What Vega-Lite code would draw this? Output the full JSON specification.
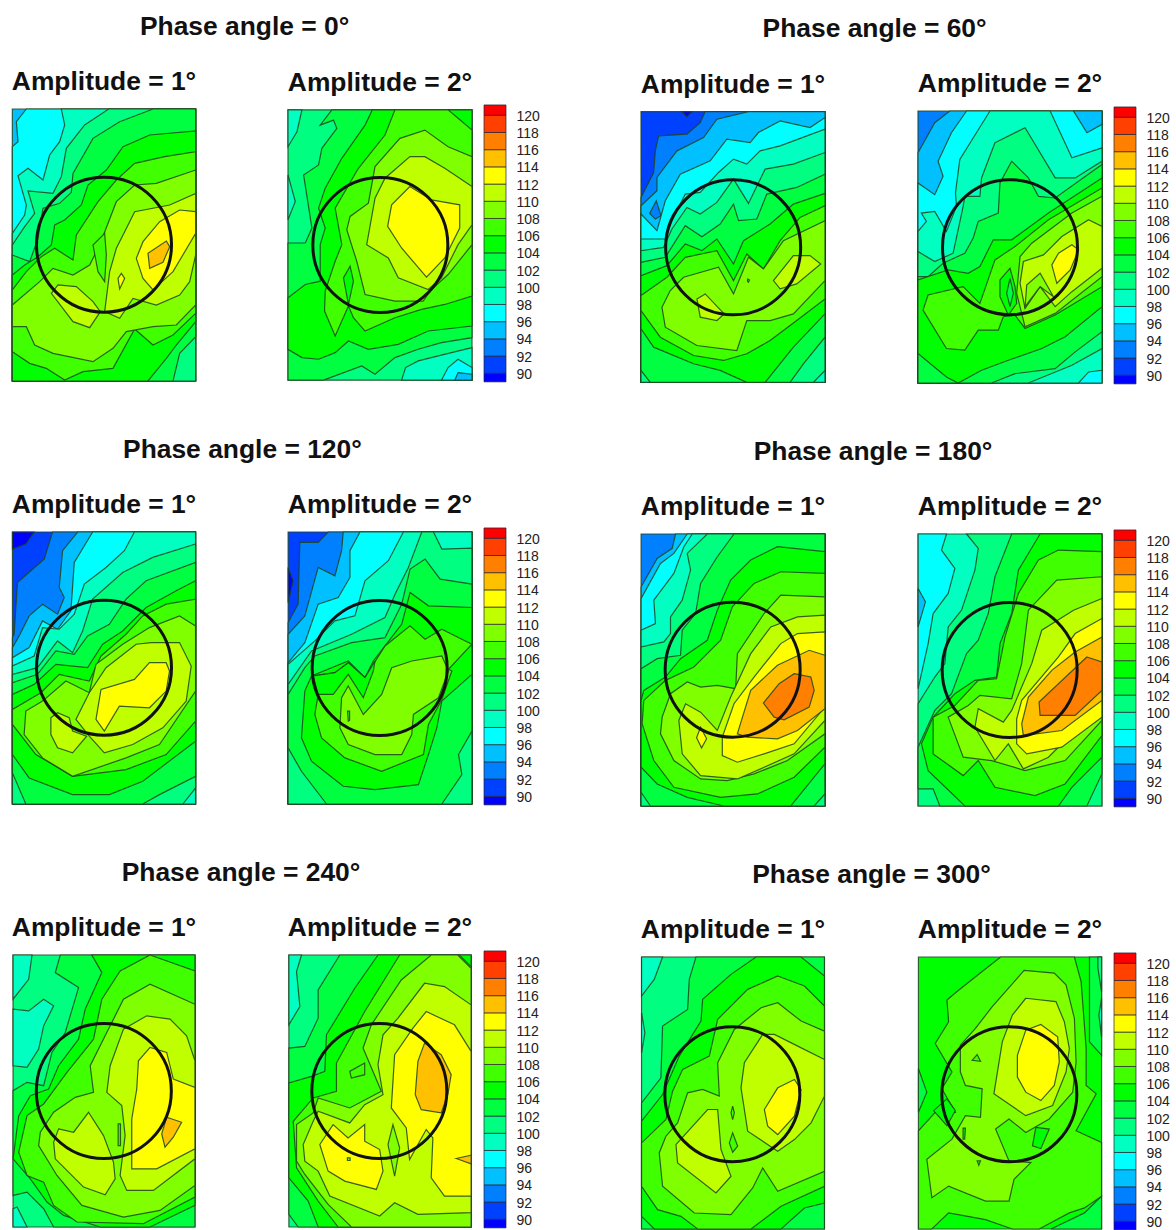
{"$schema":"https://vega.github.io/schema/vega-lite/v6.json","background":"white","padding":{"left":9,"top":13,"right":0,"bottom":0},"datasets":{"bins":[{"lo":89,"hi":90,"l":88},{"lo":90,"hi":92,"l":90},{"lo":92,"hi":94,"l":92},{"lo":94,"hi":96,"l":94},{"lo":96,"hi":98,"l":96},{"lo":98,"hi":100,"l":98},{"lo":100,"hi":102,"l":100},{"lo":102,"hi":104,"l":102},{"lo":104,"hi":106,"l":104},{"lo":106,"hi":108,"l":106},{"lo":108,"hi":110,"l":108},{"lo":110,"hi":112,"l":110},{"lo":112,"hi":114,"l":112},{"lo":114,"hi":116,"l":114},{"lo":116,"hi":118,"l":116},{"lo":118,"hi":120,"l":118},{"lo":120,"hi":121.2,"l":120}]},"config":{"view":{"stroke":null},"title":{"font":"Liberation Sans","fontSize":26.4,"fontWeight":"bold","color":"#111","anchor":"middle","offset":11},"geoshape":{"filled":true,"stroke":"#1f4420","strokeWidth":1.2,"strokeOpacity":0.85},"point":{"shape":"circle","filled":false,"stroke":"#111","strokeWidth":3,"size":18225,"opacity":1},"rect":{"stroke":"#223","strokeWidth":0.7},"axis":{"labelFont":"Liberation Sans","labelFontSize":14,"labelColor":"#222","ticks":false,"domain":false,"grid":false,"title":null,"labelPadding":10,"labelOffset":1}},"bounds":"flush","spacing":629,"hconcat":[{"bounds":"flush","spacing":423,"vconcat":[
{"bounds":"flush","title":{"text":"Phase angle = 0°","anchor":"start","dx":130,"offset":29},"spacing":92,"hconcat":[
{"title":"Amplitude = 1°","width":184,"height":272,"projection":{"type":"identity"},"layer":[{"mark":"geoshape","data":{"values":[
{"type":"Feature","properties":{"l":94},"geometry":{"type":"Polygon","coordinates":[[[8,12],[558,12],[558,828],[8,828],[8,12]]]}},
{"type":"Feature","properties":{"l":96},"geometry":{"type":"Polygon","coordinates":[[[50,12],[558,12],[558,828],[8,828],[8,125],[25,110],[20,50],[50,12]]]}},
{"type":"Feature","properties":{"l":98},"geometry":{"type":"Polygon","coordinates":[[[155,12],[558,12],[558,828],[8,828],[8,385],[45,330],[50,300],[25,212],[55,190],[100,225],[120,150],[150,110],[165,60],[155,12]]]}},
{"type":"Feature","properties":{"l":100},"geometry":{"type":"Polygon","coordinates":[[[297,12],[558,12],[558,828],[8,828],[8,420],[45,365],[75,325],[55,258],[130,265],[155,215],[170,130],[225,60],[297,12]]]}},
{"type":"Feature","properties":{"l":102},"geometry":{"type":"Polygon","coordinates":[[[430,12],[558,12],[558,695],[510,745],[490,828],[8,828],[8,450],[60,470],[85,400],[100,310],[150,295],[185,262],[190,205],[250,100],[330,50],[430,12]]]}},
{"type":"Feature","properties":{"l":104},"geometry":{"type":"Polygon","coordinates":[[[558,78],[558,650],[500,720],[470,760],[415,828],[8,828],[8,510],[45,480],[85,455],[125,420],[135,360],[165,345],[215,300],[235,240],[290,195],[340,125],[420,90],[558,78]]]}},
{"type":"Feature","properties":{"l":106},"geometry":{"type":"Polygon","coordinates":[[[558,140],[558,625],[490,690],[430,720],[375,672],[310,790],[220,800],[165,825],[110,790],[60,775],[8,740],[8,555],[50,500],[95,455],[135,430],[190,465],[200,390],[265,290],[320,225],[375,175],[465,155],[558,140]]]}},
{"type":"Feature","properties":{"l":108},"geometry":{"type":"Polygon","coordinates":[[[8,600],[90,530],[130,490],[190,510],[240,480],[270,420],[320,290],[375,240],[440,235],[558,195],[558,600],[500,660],[430,665],[350,680],[310,730],[250,770],[130,745],[75,720],[50,665],[8,665],[8,600]]]}},
{"type":"Feature","properties":{"l":106},"geometry":{"type":"Polygon","coordinates":[[[285,385],[250,420],[265,500],[285,530],[290,450],[285,385]]]}},
{"type":"Feature","properties":{"l":110},"geometry":{"type":"Polygon","coordinates":[[[558,265],[558,450],[540,530],[510,570],[440,600],[370,580],[330,640],[285,620],[300,500],[320,430],[345,380],[375,320],[480,300],[558,265]]]}},
{"type":"Feature","properties":{"l":110},"geometry":{"type":"Polygon","coordinates":[[[125,565],[145,540],[200,545],[250,590],[272,620],[240,668],[190,650],[125,565]]]}},
{"type":"Feature","properties":{"l":112},"geometry":{"type":"Polygon","coordinates":[[[558,320],[510,315],[450,350],[400,410],[380,460],[400,520],[430,555],[490,500],[558,385],[558,320]]]}},
{"type":"Feature","properties":{"l":112},"geometry":{"type":"Polygon","coordinates":[[[335,505],[345,520],[330,552],[325,520],[335,505]]]}},
{"type":"Feature","properties":{"l":114},"geometry":{"type":"Polygon","coordinates":[[[470,408],[480,425],[460,472],[420,490],[415,445],[470,408]]]}}
]},"encoding":{"color":{"field":"properties.l","type":"ordinal","legend":null,"scale":{"domain":[88,90,92,94,96,98,100,102,104,106,108,110,112,114,116,118,120],"range":["#0000ff","#0040ff","#0080ff","#00c0ff","#00ffff","#00ffc0","#00ff80","#00ff40","#00ff00","#40ff00","#80ff00","#c0ff00","#ffff00","#ffc000","#ff8000","#ff4000","#ff0000"]}}}},{"mark":"point","data":{"values":[{"cx":283,"cy":419}]},"encoding":{"longitude":{"field":"cx","type":"quantitative"},"latitude":{"field":"cy","type":"quantitative"}}}]},
{"bounds":"flush","spacing":12,"hconcat":[{"title":"Amplitude = 2°","width":184,"height":272,"projection":{"type":"identity"},"layer":[{"mark":"geoshape","data":{"values":[
{"type":"Feature","properties":{"l":100},"geometry":{"type":"Polygon","coordinates":[[[8,14],[562,14],[562,828],[8,828],[8,14]]]}},
{"type":"Feature","properties":{"l":98},"geometry":{"type":"Polygon","coordinates":[[[8,14],[50,14],[35,80],[8,125],[8,14]]]}},
{"type":"Feature","properties":{"l":98},"geometry":{"type":"Polygon","coordinates":[[[8,210],[30,290],[8,345],[8,210]]]}},
{"type":"Feature","properties":{"l":102},"geometry":{"type":"Polygon","coordinates":[[[140,14],[562,14],[562,700],[470,715],[400,735],[330,760],[270,810],[230,785],[115,828],[8,828],[8,415],[60,415],[80,370],[55,210],[100,180],[110,130],[155,70],[145,45],[105,60],[140,14]]]}},
{"type":"Feature","properties":{"l":98},"geometry":{"type":"Polygon","coordinates":[[[350,828],[362,790],[400,770],[500,745],[562,730],[562,828],[350,828]]]}},
{"type":"Feature","properties":{"l":96},"geometry":{"type":"Polygon","coordinates":[[[470,828],[490,790],[520,765],[562,790],[562,828],[470,828]]]}},
{"type":"Feature","properties":{"l":94},"geometry":{"type":"Polygon","coordinates":[[[510,828],[520,805],[562,810],[562,828],[510,828]]]}},
{"type":"Feature","properties":{"l":104},"geometry":{"type":"Polygon","coordinates":[[[262,14],[562,14],[562,665],[430,680],[340,720],[250,735],[190,710],[150,745],[100,765],[50,760],[8,735],[8,580],[60,540],[105,530],[105,420],[120,370],[100,310],[120,250],[170,160],[240,60],[262,14]]]}},
{"type":"Feature","properties":{"l":106},"geometry":{"type":"Polygon","coordinates":[[[330,14],[490,14],[562,75],[562,575],[480,600],[410,615],[330,640],[240,680],[205,640],[190,605],[150,695],[118,620],[120,560],[150,470],[170,420],[150,310],[220,190],[300,90],[330,14]]]}},
{"type":"Feature","properties":{"l":104},"geometry":{"type":"Polygon","coordinates":[[[175,520],[195,485],[205,530],[190,600],[175,520]]]}},
{"type":"Feature","properties":{"l":108},"geometry":{"type":"Polygon","coordinates":[[[562,155],[562,420],[490,510],[440,555],[415,590],[330,590],[240,570],[215,470],[185,375],[195,335],[250,295],[270,185],[345,100],[420,75],[490,125],[562,155]]]}},
{"type":"Feature","properties":{"l":110},"geometry":{"type":"Polygon","coordinates":[[[562,245],[480,190],[420,155],[375,155],[300,220],[270,280],[245,420],[310,460],[340,520],[430,555],[470,520],[520,420],[562,360],[562,245]]]}},
{"type":"Feature","properties":{"l":112},"geometry":{"type":"Polygon","coordinates":[[[375,245],[320,300],[308,365],[350,430],[425,518],[480,460],[525,370],[525,300],[440,285],[375,245]]]}}
]},"encoding":{"color":{"field":"properties.l","type":"ordinal","legend":null,"scale":{"domain":[88,90,92,94,96,98,100,102,104,106,108,110,112,114,116,118,120],"range":["#0000ff","#0040ff","#0080ff","#00c0ff","#00ffff","#00ffc0","#00ff80","#00ff40","#00ff00","#40ff00","#80ff00","#c0ff00","#ffff00","#ffc000","#ff8000","#ff4000","#ff0000"]}}}},{"mark":"point","data":{"values":[{"cx":286,"cy":421}]},"encoding":{"longitude":{"field":"cx","type":"quantitative"},"latitude":{"field":"cy","type":"quantitative"}}}]},
{"width":22,"height":272,"mark":"rect","data":{"name":"bins"},"encoding":{"y":{"field":"lo","type":"quantitative","scale":{"domain":[89.1,120.73],"nice":false,"zero":false},"axis":{"orient":"right","values":[90,92,94,96,98,100,102,104,106,108,110,112,114,116,118,120]}},"y2":{"field":"hi"},"color":{"field":"l","type":"ordinal","legend":null,"scale":{"domain":[88,90,92,94,96,98,100,102,104,106,108,110,112,114,116,118,120],"range":["#0000ff","#0040ff","#0080ff","#00c0ff","#00ffff","#00ffc0","#00ff80","#00ff40","#00ff00","#40ff00","#80ff00","#c0ff00","#ffff00","#ffc000","#ff8000","#ff4000","#ff0000"]}}}}]}]},
{"bounds":"flush","title":{"text":"Phase angle = 120°","anchor":"start","dx":113,"offset":29},"spacing":92,"hconcat":[
{"title":"Amplitude = 1°","width":184,"height":272,"projection":{"type":"identity"},"layer":[{"mark":"geoshape","data":{"values":[
{"type":"Feature","properties":{"l":90},"geometry":{"type":"Polygon","coordinates":[[[10,14],[558,14],[558,828],[10,828],[10,14]]]}},
{"type":"Feature","properties":{"l":88},"geometry":{"type":"Polygon","coordinates":[[[10,14],[75,14],[50,50],[10,65],[10,14]]]}},
{"type":"Feature","properties":{"l":92},"geometry":{"type":"Polygon","coordinates":[[[130,14],[558,14],[558,828],[10,828],[10,330],[15,320],[25,165],[105,95],[130,14]]]}},
{"type":"Feature","properties":{"l":94},"geometry":{"type":"Polygon","coordinates":[[[205,14],[558,14],[558,828],[10,828],[10,360],[30,325],[60,265],[100,230],[145,260],[165,210],[150,180],[160,70],[205,14]]]}},
{"type":"Feature","properties":{"l":96},"geometry":{"type":"Polygon","coordinates":[[[250,14],[558,14],[558,828],[10,828],[10,390],[60,360],[100,280],[145,305],[185,250],[195,105],[250,14]]]}},
{"type":"Feature","properties":{"l":98},"geometry":{"type":"Polygon","coordinates":[[[375,14],[558,14],[558,828],[10,828],[10,415],[75,385],[100,300],[150,305],[195,260],[225,170],[290,120],[345,70],[375,14]]]}},
{"type":"Feature","properties":{"l":100},"geometry":{"type":"Polygon","coordinates":[[[558,50],[558,780],[520,828],[10,828],[10,440],[85,420],[145,340],[190,375],[220,310],[250,215],[340,135],[430,90],[558,50]]]}},
{"type":"Feature","properties":{"l":102},"geometry":{"type":"Polygon","coordinates":[[[558,105],[558,745],[450,800],[400,828],[50,828],[10,735],[10,465],[85,440],[140,370],[195,380],[235,325],[300,290],[350,215],[410,160],[558,105]]]}},
{"type":"Feature","properties":{"l":104},"geometry":{"type":"Polygon","coordinates":[[[558,160],[558,640],[400,760],[300,800],[190,800],[60,750],[10,680],[10,500],[75,470],[140,410],[235,420],[280,350],[340,310],[410,240],[500,190],[558,160]]]}},
{"type":"Feature","properties":{"l":106},"geometry":{"type":"Polygon","coordinates":[[[558,215],[558,580],[470,680],[350,725],[190,745],[80,680],[10,590],[10,545],[95,495],[150,440],[240,460],[275,385],[350,320],[400,265],[470,230],[558,215]]]}},
{"type":"Feature","properties":{"l":108},"geometry":{"type":"Polygon","coordinates":[[[558,295],[510,265],[420,300],[340,350],[260,410],[240,495],[170,460],[100,520],[50,550],[45,620],[100,690],[190,745],[350,690],[450,650],[558,490],[558,295]]]}},
{"type":"Feature","properties":{"l":110},"geometry":{"type":"Polygon","coordinates":[[[425,345],[510,345],[545,415],[530,520],[460,600],[370,650],[285,675],[240,625],[200,575],[240,495],[290,420],[380,350],[425,345]]]}},
{"type":"Feature","properties":{"l":110},"geometry":{"type":"Polygon","coordinates":[[[125,570],[145,555],[180,570],[190,610],[232,625],[190,675],[145,660],[125,620],[125,570]]]}},
{"type":"Feature","properties":{"l":112},"geometry":{"type":"Polygon","coordinates":[[[420,405],[470,405],[480,430],[470,490],[420,540],[330,535],[285,610],[260,575],[275,485],[375,455],[420,405]]]}}
]},"encoding":{"color":{"field":"properties.l","type":"ordinal","legend":null,"scale":{"domain":[88,90,92,94,96,98,100,102,104,106,108,110,112,114,116,118,120],"range":["#0000ff","#0040ff","#0080ff","#00c0ff","#00ffff","#00ffc0","#00ff80","#00ff40","#00ff00","#40ff00","#80ff00","#c0ff00","#ffff00","#ffc000","#ff8000","#ff4000","#ff0000"]}}}},{"mark":"point","data":{"values":[{"cx":284,"cy":420}]},"encoding":{"longitude":{"field":"cx","type":"quantitative"},"latitude":{"field":"cy","type":"quantitative"}}}]},
{"bounds":"flush","spacing":12,"hconcat":[{"title":"Amplitude = 2°","width":184,"height":272,"projection":{"type":"identity"},"layer":[{"mark":"geoshape","data":{"values":[
{"type":"Feature","properties":{"l":90},"geometry":{"type":"Polygon","coordinates":[[[10,14],[560,14],[560,828],[10,828],[10,14]]]}},
{"type":"Feature","properties":{"l":88},"geometry":{"type":"Polygon","coordinates":[[[10,120],[25,160],[10,225],[10,120]]]}},
{"type":"Feature","properties":{"l":92},"geometry":{"type":"Polygon","coordinates":[[[130,14],[560,14],[560,828],[10,828],[10,285],[40,230],[45,45],[100,45],[130,14]]]}},
{"type":"Feature","properties":{"l":94},"geometry":{"type":"Polygon","coordinates":[[[175,14],[560,14],[560,828],[10,828],[10,320],[60,265],[100,120],[150,145],[170,70],[175,14]]]}},
{"type":"Feature","properties":{"l":96},"geometry":{"type":"Polygon","coordinates":[[[225,14],[560,14],[560,828],[10,828],[10,405],[60,345],[100,230],[160,210],[195,150],[195,70],[225,14]]]}},
{"type":"Feature","properties":{"l":98},"geometry":{"type":"Polygon","coordinates":[[[355,14],[560,14],[560,828],[10,828],[10,410],[90,340],[150,280],[210,265],[240,160],[310,100],[355,14]]]}},
{"type":"Feature","properties":{"l":100},"geometry":{"type":"Polygon","coordinates":[[[410,14],[445,14],[470,65],[560,62],[560,828],[10,828],[10,470],[80,370],[200,320],[300,270],[330,200],[370,120],[410,14]]]}},
{"type":"Feature","properties":{"l":102},"geometry":{"type":"Polygon","coordinates":[[[420,95],[465,155],[560,170],[560,610],[520,680],[530,740],[470,828],[125,828],[50,730],[10,660],[10,500],[60,420],[90,385],[200,345],[300,330],[350,230],[375,125],[420,95]]]}},
{"type":"Feature","properties":{"l":104},"geometry":{"type":"Polygon","coordinates":[[[375,195],[430,235],[560,240],[560,440],[470,520],[455,600],[430,680],[400,770],[270,785],[175,775],[80,700],[50,630],[60,490],[80,445],[190,400],[240,450],[265,400],[350,290],[375,195]]]}},
{"type":"Feature","properties":{"l":106},"geometry":{"type":"Polygon","coordinates":[[[375,295],[420,335],[470,305],[530,335],[560,350],[490,425],[500,430],[470,515],[430,590],[415,680],[290,730],[180,690],[110,630],[90,560],[100,500],[80,445],[150,435],[190,405],[240,450],[300,355],[375,295]]]}},
{"type":"Feature","properties":{"l":104},"geometry":{"type":"Polygon","coordinates":[[[85,445],[150,435],[190,405],[240,450],[270,400],[265,430],[235,510],[190,440],[145,500],[100,500],[85,445]]]}},
{"type":"Feature","properties":{"l":108},"geometry":{"type":"Polygon","coordinates":[[[380,400],[470,385],[490,430],[460,510],[385,560],[380,620],[350,680],[270,680],[190,650],[165,600],[170,510],[190,475],[235,560],[290,500],[320,420],[380,400]]]}},
{"type":"Feature","properties":{"l":106},"geometry":{"type":"Polygon","coordinates":[[[188,550],[194,550],[194,578],[190,580],[188,550]]]}}
]},"encoding":{"color":{"field":"properties.l","type":"ordinal","legend":null,"scale":{"domain":[88,90,92,94,96,98,100,102,104,106,108,110,112,114,116,118,120],"range":["#0000ff","#0040ff","#0080ff","#00c0ff","#00ffff","#00ffc0","#00ff80","#00ff40","#00ff00","#40ff00","#80ff00","#c0ff00","#ffff00","#ffc000","#ff8000","#ff4000","#ff0000"]}}}},{"mark":"point","data":{"values":[{"cx":284,"cy":421}]},"encoding":{"longitude":{"field":"cx","type":"quantitative"},"latitude":{"field":"cy","type":"quantitative"}}}]},
{"width":22,"height":272,"mark":"rect","data":{"name":"bins"},"encoding":{"y":{"field":"lo","type":"quantitative","scale":{"domain":[89.1,120.73],"nice":false,"zero":false},"axis":{"orient":"right","values":[90,92,94,96,98,100,102,104,106,108,110,112,114,116,118,120]}},"y2":{"field":"hi"},"color":{"field":"l","type":"ordinal","legend":null,"scale":{"domain":[88,90,92,94,96,98,100,102,104,106,108,110,112,114,116,118,120],"range":["#0000ff","#0040ff","#0080ff","#00c0ff","#00ffff","#00ffc0","#00ff80","#00ff40","#00ff00","#40ff00","#80ff00","#c0ff00","#ffff00","#ffc000","#ff8000","#ff4000","#ff0000"]}}}}]}]},
{"bounds":"flush","title":{"text":"Phase angle = 240°","anchor":"start","dx":111,"offset":29},"spacing":92,"hconcat":[
{"title":"Amplitude = 1°","width":184,"height":272,"projection":{"type":"identity"},"layer":[{"mark":"geoshape","data":{"values":[
{"type":"Feature","properties":{"l":100},"geometry":{"type":"Polygon","coordinates":[[[8,17],[555,17],[555,835],[8,835],[8,17]]]}},
{"type":"Feature","properties":{"l":98},"geometry":{"type":"Polygon","coordinates":[[[8,17],[65,17],[55,90],[8,150],[8,17]]]}},
{"type":"Feature","properties":{"l":98},"geometry":{"type":"Polygon","coordinates":[[[8,180],[55,185],[100,150],[130,170],[100,230],[85,300],[50,355],[8,350],[8,180]]]}},
{"type":"Feature","properties":{"l":98},"geometry":{"type":"Polygon","coordinates":[[[8,780],[20,775],[50,835],[8,835],[8,780]]]}},
{"type":"Feature","properties":{"l":102},"geometry":{"type":"Polygon","coordinates":[[[150,17],[555,17],[555,835],[130,835],[100,780],[50,730],[8,740],[8,425],[50,400],[100,410],[125,310],[165,250],[205,115],[135,70],[150,17]]]}},
{"type":"Feature","properties":{"l":104},"geometry":{"type":"Polygon","coordinates":[[[245,17],[555,17],[555,770],[420,835],[270,835],[160,800],[110,760],[60,690],[8,630],[25,500],[60,440],[115,420],[145,350],[205,270],[225,180],[275,70],[245,17]]]}},
{"type":"Feature","properties":{"l":106},"geometry":{"type":"Polygon","coordinates":[[[420,17],[555,65],[555,745],[400,825],[200,820],[130,770],[100,700],[50,680],[25,610],[50,500],[100,465],[170,370],[250,270],[275,150],[330,65],[420,17]]]}},
{"type":"Feature","properties":{"l":108},"geometry":{"type":"Polygon","coordinates":[[[555,165],[420,105],[340,150],[300,230],[240,350],[250,430],[195,445],[130,490],[90,550],[85,590],[140,680],[215,770],[340,805],[450,785],[555,710],[555,165]]]}},
{"type":"Feature","properties":{"l":106},"geometry":{"type":"Polygon","coordinates":[[[324,525],[331,525],[331,590],[324,590],[324,525]]]}},
{"type":"Feature","properties":{"l":110},"geometry":{"type":"Polygon","coordinates":[[[555,335],[530,260],[480,210],[410,200],[340,240],[300,350],[290,430],[335,470],[345,560],[330,680],[350,725],[430,725],[555,630],[555,335]]]}},
{"type":"Feature","properties":{"l":110},"geometry":{"type":"Polygon","coordinates":[[[145,540],[190,550],[235,490],[280,560],[310,640],[315,690],[285,738],[220,715],[135,630],[130,580],[145,540]]]}},
{"type":"Feature","properties":{"l":112},"geometry":{"type":"Polygon","coordinates":[[[420,295],[385,335],[380,420],[365,510],[365,660],[440,660],[555,600],[555,415],[490,390],[470,310],[420,295]]]}},
{"type":"Feature","properties":{"l":114},"geometry":{"type":"Polygon","coordinates":[[[470,505],[515,520],[490,565],[465,595],[455,555],[470,505]]]}}
]},"encoding":{"color":{"field":"properties.l","type":"ordinal","legend":null,"scale":{"domain":[88,90,92,94,96,98,100,102,104,106,108,110,112,114,116,118,120],"range":["#0000ff","#0040ff","#0080ff","#00c0ff","#00ffff","#00ffc0","#00ff80","#00ff40","#00ff00","#40ff00","#80ff00","#c0ff00","#ffff00","#ffc000","#ff8000","#ff4000","#ff0000"]}}}},{"mark":"point","data":{"values":[{"cx":281,"cy":426}]},"encoding":{"longitude":{"field":"cx","type":"quantitative"},"latitude":{"field":"cy","type":"quantitative"}}}]},
{"bounds":"flush","spacing":12,"hconcat":[{"title":"Amplitude = 2°","width":184,"height":272,"projection":{"type":"identity"},"layer":[{"mark":"geoshape","data":{"values":[
{"type":"Feature","properties":{"l":100},"geometry":{"type":"Polygon","coordinates":[[[12,20],[560,20],[560,838],[12,838],[12,20]]]}},
{"type":"Feature","properties":{"l":98},"geometry":{"type":"Polygon","coordinates":[[[12,20],[50,20],[35,70],[45,175],[12,230],[12,20]]]}},
{"type":"Feature","properties":{"l":102},"geometry":{"type":"Polygon","coordinates":[[[165,20],[560,20],[560,838],[40,838],[12,800],[12,300],[60,295],[100,210],[100,125],[165,20]]]}},
{"type":"Feature","properties":{"l":104},"geometry":{"type":"Polygon","coordinates":[[[280,20],[560,20],[560,838],[100,838],[70,760],[12,690],[12,405],[80,385],[120,370],[125,260],[210,120],[280,20]]]}},
{"type":"Feature","properties":{"l":106},"geometry":{"type":"Polygon","coordinates":[[[345,20],[525,20],[560,55],[560,838],[160,838],[100,760],[35,660],[25,520],[85,450],[155,430],[155,345],[240,190],[345,20]]]}},
{"type":"Feature","properties":{"l":108},"geometry":{"type":"Polygon","coordinates":[[[440,20],[520,20],[560,60],[560,838],[200,838],[130,770],[60,680],[35,640],[35,530],[85,495],[100,450],[195,480],[290,430],[235,300],[260,230],[350,95],[440,20]]]}},
{"type":"Feature","properties":{"l":106},"geometry":{"type":"Polygon","coordinates":[[[195,370],[240,345],[240,380],[200,390],[195,370]]]}},
{"type":"Feature","properties":{"l":110},"geometry":{"type":"Polygon","coordinates":[[[560,170],[480,115],[420,105],[340,210],[295,260],[280,350],[295,440],[240,470],[195,525],[100,490],[85,520],[55,590],[60,640],[100,670],[135,745],[285,805],[330,765],[400,800],[560,795],[560,170]]]}},
{"type":"Feature","properties":{"l":112},"geometry":{"type":"Polygon","coordinates":[[[560,310],[510,230],[425,190],[385,240],[330,320],[320,480],[365,540],[375,635],[425,545],[445,570],[440,690],[480,745],[560,745],[560,310]]]}},
{"type":"Feature","properties":{"l":112},"geometry":{"type":"Polygon","coordinates":[[[145,530],[190,570],[240,530],[240,580],[285,605],[295,670],[275,725],[180,700],[130,670],[105,590],[145,530]]]}},
{"type":"Feature","properties":{"l":114},"geometry":{"type":"Polygon","coordinates":[[[420,285],[470,320],[500,380],[490,440],[470,495],[410,485],[392,440],[400,340],[420,285]]]}},
{"type":"Feature","properties":{"l":108},"geometry":{"type":"Polygon","coordinates":[[[325,530],[345,600],[330,685],[310,590],[325,530]]]}},
{"type":"Feature","properties":{"l":114},"geometry":{"type":"Polygon","coordinates":[[[515,632],[560,622],[560,648],[515,632]]]}},
{"type":"Feature","properties":{"l":108},"geometry":{"type":"Polygon","coordinates":[[[188,630],[196,630],[196,638],[188,638],[188,630]]]}}
]},"encoding":{"color":{"field":"properties.l","type":"ordinal","legend":null,"scale":{"domain":[88,90,92,94,96,98,100,102,104,106,108,110,112,114,116,118,120],"range":["#0000ff","#0040ff","#0080ff","#00c0ff","#00ffff","#00ffc0","#00ff80","#00ff40","#00ff00","#40ff00","#80ff00","#c0ff00","#ffff00","#ffc000","#ff8000","#ff4000","#ff0000"]}}}},{"mark":"point","data":{"values":[{"cx":284,"cy":429}]},"encoding":{"longitude":{"field":"cx","type":"quantitative"},"latitude":{"field":"cy","type":"quantitative"}}}]},
{"width":22,"height":272,"mark":"rect","data":{"name":"bins"},"encoding":{"y":{"field":"lo","type":"quantitative","scale":{"domain":[89.1,120.73],"nice":false,"zero":false},"axis":{"orient":"right","values":[90,92,94,96,98,100,102,104,106,108,110,112,114,116,118,120]}},"y2":{"field":"hi"},"color":{"field":"l","type":"ordinal","legend":null,"scale":{"domain":[88,90,92,94,96,98,100,102,104,106,108,110,112,114,116,118,120],"range":["#0000ff","#0040ff","#0080ff","#00c0ff","#00ffff","#00ffc0","#00ff80","#00ff40","#00ff00","#40ff00","#80ff00","#c0ff00","#ffff00","#ffc000","#ff8000","#ff4000","#ff0000"]}}}}]}]}
]},
{"bounds":"flush","spacing":0,"vconcat":[{"width":1,"height":2,"data":{"values":[{"a":0}]},"mark":{"type":"rule","opacity":0},"encoding":{}},
{"bounds":"flush","spacing":423,"vconcat":[
{"bounds":"flush","title":{"text":"Phase angle = 60°","anchor":"start","dx":124,"offset":29},"spacing":93,"hconcat":[
{"title":"Amplitude = 1°","width":184,"height":272,"projection":{"type":"identity"},"layer":[{"mark":"geoshape","data":{"values":[
{"type":"Feature","properties":{"l":90},"geometry":{"type":"Polygon","coordinates":[[[12,12],[565,12],[565,826],[12,826],[12,12]]]}},
{"type":"Feature","properties":{"l":88},"geometry":{"type":"Polygon","coordinates":[[[135,12],[165,12],[150,28],[135,12]]]}},
{"type":"Feature","properties":{"l":92},"geometry":{"type":"Polygon","coordinates":[[[205,12],[565,12],[565,826],[12,826],[12,270],[50,195],[55,130],[65,85],[150,80],[190,45],[205,12]]]}},
{"type":"Feature","properties":{"l":94},"geometry":{"type":"Polygon","coordinates":[[[335,12],[565,12],[565,826],[12,826],[12,295],[60,250],[60,210],[120,130],[200,90],[240,35],[335,12]]]}},
{"type":"Feature","properties":{"l":92},"geometry":{"type":"Polygon","coordinates":[[[38,318],[58,280],[72,325],[55,335],[38,318]]]}},
{"type":"Feature","properties":{"l":96},"geometry":{"type":"Polygon","coordinates":[[[565,30],[565,826],[12,826],[12,320],[60,370],[85,280],[130,200],[220,160],[270,95],[340,105],[365,75],[430,40],[520,60],[565,30]]]}},
{"type":"Feature","properties":{"l":98},"geometry":{"type":"Polygon","coordinates":[[[565,65],[565,826],[12,826],[12,395],[85,395],[105,340],[145,260],[190,255],[245,195],[290,155],[330,170],[370,130],[430,115],[565,65]]]}},
{"type":"Feature","properties":{"l":100},"geometry":{"type":"Polygon","coordinates":[[[565,135],[565,790],[530,826],[12,826],[12,430],[80,420],[105,365],[150,300],[190,320],[240,285],[290,215],[335,288],[385,185],[470,170],[565,135]]]}},
{"type":"Feature","properties":{"l":102},"geometry":{"type":"Polygon","coordinates":[[[565,200],[565,690],[500,770],[460,826],[40,826],[12,790],[12,465],[85,450],[145,355],[195,388],[250,350],[290,290],[305,340],[360,335],[390,260],[480,240],[565,200]]]}},
{"type":"Feature","properties":{"l":104},"geometry":{"type":"Polygon","coordinates":[[[565,258],[565,620],[470,720],[385,826],[330,826],[250,790],[170,770],[50,720],[12,665],[12,505],[90,475],[145,410],[195,430],[240,395],[290,470],[320,400],[400,350],[470,290],[565,258]]]}},
{"type":"Feature","properties":{"l":106},"geometry":{"type":"Polygon","coordinates":[[[12,565],[90,510],[145,450],[240,430],[290,520],[330,440],[380,485],[430,400],[490,330],[565,295],[565,575],[480,640],[400,700],[330,740],[260,760],[170,745],[70,690],[12,610],[12,565]]]}},
{"type":"Feature","properties":{"l":108},"geometry":{"type":"Polygon","coordinates":[[[140,510],[245,480],[290,560],[335,450],[380,485],[440,400],[565,340],[565,520],[470,620],[400,640],[330,640],[300,730],[180,715],[85,660],[75,600],[100,550],[140,510]]]}},
{"type":"Feature","properties":{"l":110},"geometry":{"type":"Polygon","coordinates":[[[180,575],[205,560],[262,620],[240,640],[190,630],[180,575]]]}},
{"type":"Feature","properties":{"l":110},"geometry":{"type":"Polygon","coordinates":[[[410,520],[470,445],[520,445],[552,470],[480,530],[430,545],[410,520]]]}},
{"type":"Feature","properties":{"l":106},"geometry":{"type":"Polygon","coordinates":[[[333,515],[338,518],[335,525],[332,522],[333,515]]]}}
]},"encoding":{"color":{"field":"properties.l","type":"ordinal","legend":null,"scale":{"domain":[88,90,92,94,96,98,100,102,104,106,108,110,112,114,116,118,120],"range":["#0000ff","#0040ff","#0080ff","#00c0ff","#00ffff","#00ffc0","#00ff80","#00ff40","#00ff00","#40ff00","#80ff00","#c0ff00","#ffff00","#ffc000","#ff8000","#ff4000","#ff0000"]}}}},{"mark":"point","data":{"values":[{"cx":289,"cy":420}]},"encoding":{"longitude":{"field":"cx","type":"quantitative"},"latitude":{"field":"cy","type":"quantitative"}}}]},
{"bounds":"flush","spacing":12,"hconcat":[{"title":"Amplitude = 2°","width":184,"height":272,"projection":{"type":"identity"},"layer":[{"mark":"geoshape","data":{"values":[
{"type":"Feature","properties":{"l":92},"geometry":{"type":"Polygon","coordinates":[[[10,15],[560,15],[560,828],[10,828],[10,15]]]}},
{"type":"Feature","properties":{"l":94},"geometry":{"type":"Polygon","coordinates":[[[105,15],[560,15],[560,828],[10,828],[10,140],[60,50],[105,15]]]}},
{"type":"Feature","properties":{"l":96},"geometry":{"type":"Polygon","coordinates":[[[155,15],[560,15],[560,828],[10,828],[10,230],[60,265],[85,210],[70,165],[110,80],[155,15]]]}},
{"type":"Feature","properties":{"l":94},"geometry":{"type":"Polygon","coordinates":[[[475,15],[560,15],[560,55],[515,80],[475,15]]]}},
{"type":"Feature","properties":{"l":98},"geometry":{"type":"Polygon","coordinates":[[[225,15],[405,15],[470,155],[560,125],[560,790],[520,795],[490,828],[10,828],[10,375],[35,345],[20,320],[60,315],[95,375],[125,300],[122,260],[135,160],[225,15]]]}},
{"type":"Feature","properties":{"l":100},"geometry":{"type":"Polygon","coordinates":[[[240,110],[330,65],[420,215],[480,215],[560,165],[560,725],[470,775],[340,828],[10,828],[10,435],[60,465],[115,440],[145,300],[150,270],[195,270],[200,215],[240,110]]]}},
{"type":"Feature","properties":{"l":102},"geometry":{"type":"Polygon","coordinates":[[[290,165],[340,215],[370,270],[420,275],[560,175],[560,675],[480,735],[420,785],[300,800],[230,828],[10,828],[10,510],[40,510],[85,470],[150,440],[175,395],[190,345],[250,320],[255,230],[290,165]]]}},
{"type":"Feature","properties":{"l":104},"geometry":{"type":"Polygon","coordinates":[[[560,215],[400,320],[290,400],[235,400],[195,480],[160,500],[100,490],[10,520],[10,740],[95,810],[130,828],[200,790],[280,760],[380,725],[450,690],[560,600],[560,215]]]}},
{"type":"Feature","properties":{"l":106},"geometry":{"type":"Polygon","coordinates":[[[560,245],[400,340],[300,420],[240,460],[195,590],[145,540],[40,565],[25,610],[95,725],[150,730],[190,670],[250,670],[265,630],[300,625],[330,665],[420,625],[560,540],[560,245]]]}},
{"type":"Feature","properties":{"l":104},"geometry":{"type":"Polygon","coordinates":[[[285,485],[300,540],[305,590],[280,625],[255,570],[255,520],[285,485]]]}},
{"type":"Feature","properties":{"l":102},"geometry":{"type":"Polygon","coordinates":[[[285,515],[295,560],[285,600],[275,560],[285,515]]]}},
{"type":"Feature","properties":{"l":108},"geometry":{"type":"Polygon","coordinates":[[[560,270],[470,320],[350,410],[315,450],[305,560],[330,660],[420,620],[560,510],[560,270]]]}},
{"type":"Feature","properties":{"l":110},"geometry":{"type":"Polygon","coordinates":[[[520,340],[560,360],[560,485],[470,555],[420,600],[375,540],[330,605],[315,530],[325,465],[385,445],[440,390],[520,340]]]}},
{"type":"Feature","properties":{"l":108},"geometry":{"type":"Polygon","coordinates":[[[335,535],[375,500],[415,570],[375,540],[330,600],[335,535]]]}},
{"type":"Feature","properties":{"l":112},"geometry":{"type":"Polygon","coordinates":[[[470,415],[490,430],[465,490],[425,530],[410,475],[430,440],[470,415]]]}}
]},"encoding":{"color":{"field":"properties.l","type":"ordinal","legend":null,"scale":{"domain":[88,90,92,94,96,98,100,102,104,106,108,110,112,114,116,118,120],"range":["#0000ff","#0040ff","#0080ff","#00c0ff","#00ffff","#00ffc0","#00ff80","#00ff40","#00ff00","#40ff00","#80ff00","#c0ff00","#ffff00","#ffc000","#ff8000","#ff4000","#ff0000"]}}}},{"mark":"point","data":{"values":[{"cx":285,"cy":422}]},"encoding":{"longitude":{"field":"cx","type":"quantitative"},"latitude":{"field":"cy","type":"quantitative"}}}]},
{"width":22,"height":272,"mark":"rect","data":{"name":"bins"},"encoding":{"y":{"field":"lo","type":"quantitative","scale":{"domain":[89.1,120.73],"nice":false,"zero":false},"axis":{"orient":"right","values":[90,92,94,96,98,100,102,104,106,108,110,112,114,116,118,120]}},"y2":{"field":"hi"},"color":{"field":"l","type":"ordinal","legend":null,"scale":{"domain":[88,90,92,94,96,98,100,102,104,106,108,110,112,114,116,118,120],"range":["#0000ff","#0040ff","#0080ff","#00c0ff","#00ffff","#00ffc0","#00ff80","#00ff40","#00ff00","#40ff00","#80ff00","#c0ff00","#ffff00","#ffc000","#ff8000","#ff4000","#ff0000"]}}}}]}]},
{"bounds":"flush","title":{"text":"Phase angle = 180°","anchor":"start","dx":115,"offset":29},"spacing":93,"hconcat":[
{"title":"Amplitude = 1°","width":184,"height":272,"projection":{"type":"identity"},"layer":[{"mark":"geoshape","data":{"values":[
{"type":"Feature","properties":{"l":92},"geometry":{"type":"Polygon","coordinates":[[[12,12],[562,12],[562,826],[12,826],[12,12]]]}},
{"type":"Feature","properties":{"l":94},"geometry":{"type":"Polygon","coordinates":[[[115,12],[562,12],[562,826],[12,826],[12,170],[60,85],[105,55],[115,12]]]}},
{"type":"Feature","properties":{"l":96},"geometry":{"type":"Polygon","coordinates":[[[150,12],[562,12],[562,826],[12,826],[12,205],[70,100],[110,70],[150,12]]]}},
{"type":"Feature","properties":{"l":98},"geometry":{"type":"Polygon","coordinates":[[[165,12],[562,12],[562,826],[12,826],[12,300],[55,280],[50,210],[110,130],[140,50],[165,12]]]}},
{"type":"Feature","properties":{"l":100},"geometry":{"type":"Polygon","coordinates":[[[210,12],[562,12],[562,826],[12,826],[12,350],[80,335],[100,310],[100,260],[135,210],[160,120],[150,70],[210,12]]]}},
{"type":"Feature","properties":{"l":102},"geometry":{"type":"Polygon","coordinates":[[[290,12],[562,12],[562,790],[530,826],[40,826],[12,785],[12,415],[60,385],[130,375],[135,300],[175,250],[190,160],[240,80],[290,12]]]}},
{"type":"Feature","properties":{"l":104},"geometry":{"type":"Polygon","coordinates":[[[562,65],[420,50],[340,90],[280,150],[240,240],[210,330],[130,385],[85,440],[20,480],[12,510],[12,710],[60,760],[150,800],[260,826],[460,826],[562,700],[562,65]]]}},
{"type":"Feature","properties":{"l":106},"geometry":{"type":"Polygon","coordinates":[[[562,130],[430,125],[350,160],[285,230],[250,330],[170,410],[85,450],[20,510],[15,580],[50,690],[110,770],[250,800],[360,790],[470,740],[562,650],[562,130]]]}},
{"type":"Feature","properties":{"l":108},"geometry":{"type":"Polygon","coordinates":[[[562,200],[430,195],[380,250],[300,370],[295,475],[240,465],[190,470],[150,455],[100,490],[75,560],[70,610],[110,690],[190,745],[270,750],[350,730],[450,690],[562,610],[562,200]]]}},
{"type":"Feature","properties":{"l":110},"geometry":{"type":"Polygon","coordinates":[[[562,255],[480,260],[400,290],[340,370],[280,500],[240,600],[190,545],[145,520],[125,570],[135,670],[190,735],[300,745],[380,710],[470,670],[562,570],[562,255]]]}},
{"type":"Feature","properties":{"l":112},"geometry":{"type":"Polygon","coordinates":[[[562,305],[480,310],[430,340],[350,440],[290,520],[255,620],[255,675],[300,695],[380,670],[470,640],[562,530],[562,305]]]}},
{"type":"Feature","properties":{"l":112},"geometry":{"type":"Polygon","coordinates":[[[190,590],[208,625],[193,652],[178,622],[190,590]]]}},
{"type":"Feature","properties":{"l":114},"geometry":{"type":"Polygon","coordinates":[[[562,375],[515,360],[420,405],[340,480],[300,610],[330,620],[420,625],[480,600],[562,535],[562,375]]]}},
{"type":"Feature","properties":{"l":116},"geometry":{"type":"Polygon","coordinates":[[[470,430],[520,440],[530,480],[515,530],[440,568],[410,560],[378,518],[425,460],[470,430]]]}}
]},"encoding":{"color":{"field":"properties.l","type":"ordinal","legend":null,"scale":{"domain":[88,90,92,94,96,98,100,102,104,106,108,110,112,114,116,118,120],"range":["#0000ff","#0040ff","#0080ff","#00c0ff","#00ffff","#00ffc0","#00ff80","#00ff40","#00ff00","#40ff00","#80ff00","#c0ff00","#ffff00","#ffc000","#ff8000","#ff4000","#ff0000"]}}}},{"mark":"point","data":{"values":[{"cx":286,"cy":418}]},"encoding":{"longitude":{"field":"cx","type":"quantitative"},"latitude":{"field":"cy","type":"quantitative"}}}]},
{"bounds":"flush","spacing":12,"hconcat":[{"title":"Amplitude = 2°","width":184,"height":272,"projection":{"type":"identity"},"layer":[{"mark":"geoshape","data":{"values":[
{"type":"Feature","properties":{"l":98},"geometry":{"type":"Polygon","coordinates":[[[10,12],[560,12],[560,826],[10,826],[10,12]]]}},
{"type":"Feature","properties":{"l":96},"geometry":{"type":"Polygon","coordinates":[[[10,12],[95,12],[80,60],[120,115],[100,190],[55,250],[40,340],[10,475],[10,12]]]}},
{"type":"Feature","properties":{"l":94},"geometry":{"type":"Polygon","coordinates":[[[10,175],[32,215],[10,290],[10,175]]]}},
{"type":"Feature","properties":{"l":100},"geometry":{"type":"Polygon","coordinates":[[[155,12],[560,12],[560,826],[10,826],[10,520],[60,440],[90,400],[100,290],[140,240],[180,120],[190,55],[155,12]]]}},
{"type":"Feature","properties":{"l":102},"geometry":{"type":"Polygon","coordinates":[[[290,12],[560,12],[560,730],[515,826],[75,826],[55,775],[10,775],[10,650],[60,540],[110,490],[155,370],[190,330],[220,250],[240,140],[290,12]]]}},
{"type":"Feature","properties":{"l":104},"geometry":{"type":"Polygon","coordinates":[[[375,12],[560,12],[560,680],[470,770],[430,826],[150,826],[40,720],[20,640],[55,560],[120,490],[180,450],[245,440],[255,340],[290,250],[310,120],[375,12]]]}},
{"type":"Feature","properties":{"l":106},"geometry":{"type":"Polygon","coordinates":[[[560,65],[430,60],[370,90],[310,190],[270,320],[245,445],[190,450],[120,525],[55,560],[55,670],[145,735],[190,690],[240,770],[360,795],[450,760],[560,615],[560,65]]]}},
{"type":"Feature","properties":{"l":108},"geometry":{"type":"Polygon","coordinates":[[[560,140],[425,150],[340,240],[320,400],[290,505],[195,495],[160,525],[100,560],[145,680],[230,690],[330,720],[450,690],[560,570],[560,140]]]}},
{"type":"Feature","properties":{"l":110},"geometry":{"type":"Polygon","coordinates":[[[560,205],[475,240],[380,300],[350,400],[290,540],[265,575],[190,535],[180,590],[240,690],[280,640],[325,715],[400,680],[560,520],[560,205]]]}},
{"type":"Feature","properties":{"l":112},"geometry":{"type":"Polygon","coordinates":[[[560,265],[480,310],[430,380],[320,510],[305,565],[305,640],[335,670],[440,650],[560,560],[560,265]]]}},
{"type":"Feature","properties":{"l":114},"geometry":{"type":"Polygon","coordinates":[[[560,320],[480,365],[410,420],[340,500],[320,580],[325,615],[440,600],[560,510],[560,320]]]}},
{"type":"Feature","properties":{"l":116},"geometry":{"type":"Polygon","coordinates":[[[515,380],[560,395],[560,480],[480,555],[375,555],[372,515],[515,380]]]}}
]},"encoding":{"color":{"field":"properties.l","type":"ordinal","legend":null,"scale":{"domain":[88,90,92,94,96,98,100,102,104,106,108,110,112,114,116,118,120],"range":["#0000ff","#0040ff","#0080ff","#00c0ff","#00ffff","#00ffc0","#00ff80","#00ff40","#00ff00","#40ff00","#80ff00","#c0ff00","#ffff00","#ffc000","#ff8000","#ff4000","#ff0000"]}}}},{"mark":"point","data":{"values":[{"cx":284,"cy":419}]},"encoding":{"longitude":{"field":"cx","type":"quantitative"},"latitude":{"field":"cy","type":"quantitative"}}}]},
{"width":22,"height":272,"mark":"rect","data":{"name":"bins"},"encoding":{"y":{"field":"lo","type":"quantitative","scale":{"domain":[89.1,120.73],"nice":false,"zero":false},"axis":{"orient":"right","values":[90,92,94,96,98,100,102,104,106,108,110,112,114,116,118,120]}},"y2":{"field":"hi"},"color":{"field":"l","type":"ordinal","legend":null,"scale":{"domain":[88,90,92,94,96,98,100,102,104,106,108,110,112,114,116,118,120],"range":["#0000ff","#0040ff","#0080ff","#00c0ff","#00ffff","#00ffc0","#00ff80","#00ff40","#00ff00","#40ff00","#80ff00","#c0ff00","#ffff00","#ffc000","#ff8000","#ff4000","#ff0000"]}}}}]}]},
{"bounds":"flush","title":{"text":"Phase angle = 300°","anchor":"start","dx":113,"offset":29},"spacing":93,"hconcat":[
{"title":"Amplitude = 1°","width":184,"height":272,"projection":{"type":"identity"},"layer":[{"mark":"geoshape","data":{"values":[
{"type":"Feature","properties":{"l":100},"geometry":{"type":"Polygon","coordinates":[[[12,23],[560,23],[560,838],[12,838],[12,23]]]}},
{"type":"Feature","properties":{"l":98},"geometry":{"type":"Polygon","coordinates":[[[12,23],[75,23],[50,90],[12,140],[12,23]]]}},
{"type":"Feature","properties":{"l":98},"geometry":{"type":"Polygon","coordinates":[[[12,190],[22,250],[12,310],[12,190]]]}},
{"type":"Feature","properties":{"l":102},"geometry":{"type":"Polygon","coordinates":[[[175,23],[560,23],[560,838],[12,838],[12,460],[70,385],[75,230],[150,180],[155,90],[175,23]]]}},
{"type":"Feature","properties":{"l":104},"geometry":{"type":"Polygon","coordinates":[[[355,23],[490,23],[560,80],[560,760],[500,775],[430,838],[50,838],[12,800],[12,515],[75,435],[125,320],[190,215],[195,150],[280,75],[355,23]]]}},
{"type":"Feature","properties":{"l":106},"geometry":{"type":"Polygon","coordinates":[[[420,80],[500,110],[560,170],[560,710],[430,770],[340,838],[180,838],[130,800],[60,780],[12,710],[12,580],[85,510],[105,425],[135,360],[215,320],[240,210],[330,120],[420,80]]]}},
{"type":"Feature","properties":{"l":108},"geometry":{"type":"Polygon","coordinates":[[[560,245],[490,215],[420,160],[370,175],[290,240],[240,340],[245,440],[195,420],[150,430],[120,520],[85,560],[65,610],[75,710],[170,790],[280,795],[345,715],[375,655],[420,725],[560,665],[560,245]]]}},
{"type":"Feature","properties":{"l":110},"geometry":{"type":"Polygon","coordinates":[[[560,330],[480,290],[410,255],[375,255],[320,340],[310,415],[330,545],[420,605],[470,570],[520,520],[560,440],[560,330]]]}},
{"type":"Feature","properties":{"l":110},"geometry":{"type":"Polygon","coordinates":[[[115,585],[210,480],[240,480],[250,600],[280,680],[235,730],[120,640],[115,585]]]}},
{"type":"Feature","properties":{"l":112},"geometry":{"type":"Polygon","coordinates":[[[420,415],[470,390],[490,420],[470,500],[420,555],[390,530],[380,480],[420,415]]]}},
{"type":"Feature","properties":{"l":106},"geometry":{"type":"Polygon","coordinates":[[[285,470],[290,490],[285,510],[280,490],[285,470]]]}},
{"type":"Feature","properties":{"l":106},"geometry":{"type":"Polygon","coordinates":[[[285,550],[300,590],[285,608],[275,580],[285,550]]]}}
]},"encoding":{"color":{"field":"properties.l","type":"ordinal","legend":null,"scale":{"domain":[88,90,92,94,96,98,100,102,104,106,108,110,112,114,116,118,120],"range":["#0000ff","#0040ff","#0080ff","#00c0ff","#00ffff","#00ffc0","#00ff80","#00ff40","#00ff00","#40ff00","#80ff00","#c0ff00","#ffff00","#ffc000","#ff8000","#ff4000","#ff0000"]}}}},{"mark":"point","data":{"values":[{"cx":284,"cy":434}]},"encoding":{"longitude":{"field":"cx","type":"quantitative"},"latitude":{"field":"cy","type":"quantitative"}}}]},
{"bounds":"flush","spacing":12,"hconcat":[{"title":"Amplitude = 2°","width":184,"height":272,"projection":{"type":"identity"},"layer":[{"mark":"geoshape","data":{"values":[
{"type":"Feature","properties":{"l":104},"geometry":{"type":"Polygon","coordinates":[[[10,27],[556,27],[556,838],[10,838],[10,27]]]}},
{"type":"Feature","properties":{"l":102},"geometry":{"type":"Polygon","coordinates":[[[520,27],[556,27],[556,320],[520,280],[520,27]]]}},
{"type":"Feature","properties":{"l":100},"geometry":{"type":"Polygon","coordinates":[[[545,27],[556,27],[556,130],[545,60],[545,27]]]}},
{"type":"Feature","properties":{"l":98},"geometry":{"type":"Polygon","coordinates":[[[556,150],[548,200],[556,265],[556,150]]]}},
{"type":"Feature","properties":{"l":102},"geometry":{"type":"Polygon","coordinates":[[[10,360],[35,430],[10,490],[10,360]]]}},
{"type":"Feature","properties":{"l":102},"geometry":{"type":"Polygon","coordinates":[[[405,838],[505,790],[556,740],[556,838],[405,838]]]}},
{"type":"Feature","properties":{"l":106},"geometry":{"type":"Polygon","coordinates":[[[255,27],[475,27],[495,100],[510,300],[510,410],[540,435],[480,545],[556,580],[556,740],[505,775],[460,790],[370,838],[290,838],[210,810],[100,790],[50,838],[10,838],[10,545],[60,490],[120,490],[80,420],[110,370],[60,285],[100,220],[95,155],[125,130],[200,70],[255,27]]]}},
{"type":"Feature","properties":{"l":104},"geometry":{"type":"Polygon","coordinates":[[[55,485],[95,450],[120,485],[95,530],[55,485]]]}},
{"type":"Feature","properties":{"l":108},"geometry":{"type":"Polygon","coordinates":[[[325,67],[415,75],[450,110],[475,210],[480,340],[470,430],[400,510],[330,550],[280,510],[240,540],[280,635],[345,640],[295,690],[280,755],[210,755],[100,710],[50,745],[35,630],[110,570],[150,500],[195,505],[200,420],[150,410],[135,370],[135,290],[180,240],[230,175],[325,67]]]}},
{"type":"Feature","properties":{"l":104},"geometry":{"type":"Polygon","coordinates":[[[360,535],[400,540],[375,598],[350,590],[360,535]]]}},
{"type":"Feature","properties":{"l":106},"geometry":{"type":"Polygon","coordinates":[[[170,335],[185,318],[195,338],[170,335]]]}},
{"type":"Feature","properties":{"l":104},"geometry":{"type":"Polygon","coordinates":[[[143,537],[150,537],[148,570],[143,570],[143,537]]]}},
{"type":"Feature","properties":{"l":106},"geometry":{"type":"Polygon","coordinates":[[[185,635],[195,635],[190,648],[185,635]]]}},
{"type":"Feature","properties":{"l":110},"geometry":{"type":"Polygon","coordinates":[[[330,150],[420,160],[445,220],[460,300],[450,370],[410,470],[330,500],[235,435],[260,280],[290,200],[330,150]]]}},
{"type":"Feature","properties":{"l":112},"geometry":{"type":"Polygon","coordinates":[[[375,228],[425,265],[430,340],[415,410],[375,455],[330,430],[305,385],[305,320],[330,245],[375,228]]]}}
]},"encoding":{"color":{"field":"properties.l","type":"ordinal","legend":null,"scale":{"domain":[88,90,92,94,96,98,100,102,104,106,108,110,112,114,116,118,120],"range":["#0000ff","#0040ff","#0080ff","#00c0ff","#00ffff","#00ffc0","#00ff80","#00ff40","#00ff00","#40ff00","#80ff00","#c0ff00","#ffff00","#ffc000","#ff8000","#ff4000","#ff0000"]}}}},{"mark":"point","data":{"values":[{"cx":281,"cy":436}]},"encoding":{"longitude":{"field":"cx","type":"quantitative"},"latitude":{"field":"cy","type":"quantitative"}}}]},
{"width":22,"height":272,"mark":"rect","data":{"name":"bins"},"encoding":{"y":{"field":"lo","type":"quantitative","scale":{"domain":[89.1,120.73],"nice":false,"zero":false},"axis":{"orient":"right","values":[90,92,94,96,98,100,102,104,106,108,110,112,114,116,118,120]}},"y2":{"field":"hi"},"color":{"field":"l","type":"ordinal","legend":null,"scale":{"domain":[88,90,92,94,96,98,100,102,104,106,108,110,112,114,116,118,120],"range":["#0000ff","#0040ff","#0080ff","#00c0ff","#00ffff","#00ffc0","#00ff80","#00ff40","#00ff00","#40ff00","#80ff00","#c0ff00","#ffff00","#ffc000","#ff8000","#ff4000","#ff0000"]}}}}]}]}
]}]}]}
